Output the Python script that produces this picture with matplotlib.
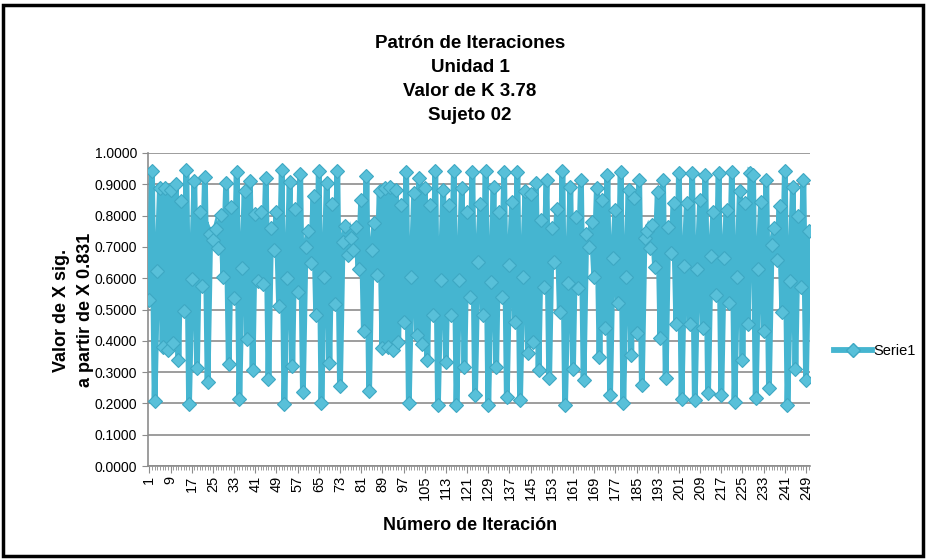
import matplotlib
matplotlib.use("Agg")
import matplotlib.pyplot as plt
from matplotlib.patches import Rectangle
from matplotlib.lines import Line2D

plt.rcParams['font.family'] = ['Liberation Sans', 'DejaVu Sans']

title_lines = ["Patrón de Iteraciones", "Unidad 1", "Valor de K 3.78", "Sujeto 02"]
y_label_lines = ["Valor de X sig.", "a partir de X 0.831"]
x_label = "Número de Iteración"
series_name = "Serie1"

values_1_50 = [0.5309, 0.9414, 0.2085, 0.6239, 0.8870, 0.3789, 0.8895, 0.3714, 0.8825, 0.3920,
               0.9009, 0.3375, 0.8452, 0.4945, 0.9449, 0.1968, 0.5976, 0.9090, 0.3127, 0.8124,
               0.5762, 0.9231, 0.2685, 0.7424, 0.7230, 0.7570, 0.6953, 0.8009, 0.6028, 0.9051,
               0.3248, 0.8290, 0.5358, 0.9402, 0.2127, 0.6330, 0.8782, 0.4044, 0.9105, 0.3082,
               0.8059, 0.5914, 0.8100, 0.5817, 0.9196, 0.2790, 0.7604, 0.6890, 0.8100, 0.5100]
values_51_100 = [0.9446, 0.1979, 0.6000, 0.9072, 0.3182, 0.8204, 0.5570, 0.9327, 0.2373, 0.7000,
                 0.7500, 0.6480, 0.8620, 0.4830, 0.9437, 0.2000, 0.6048, 0.9033, 0.3302, 0.8363,
                 0.5175, 0.9439, 0.2540, 0.7162, 0.7683, 0.6729, 0.7300, 0.6900, 0.7650, 0.6300,
                 0.8500, 0.4300, 0.9265, 0.2400, 0.6895, 0.7750, 0.6100, 0.8800, 0.3760, 0.8870,
                 0.3790, 0.8900, 0.3700, 0.8810, 0.3960, 0.8340, 0.4610, 0.9390, 0.2000, 0.6050]
values_101_150 = [0.8730, 0.4190, 0.9200, 0.3900, 0.8870, 0.3380, 0.8340, 0.4820, 0.9430, 0.1950,
                  0.5930, 0.8820, 0.3330, 0.8340, 0.4820, 0.9430, 0.1950, 0.5940, 0.8870, 0.3170,
                  0.8100, 0.5400, 0.9390, 0.2260, 0.6530, 0.8360, 0.4820, 0.9430, 0.1950, 0.5890,
                  0.8920, 0.3170, 0.8100, 0.5400, 0.9390, 0.2200, 0.6420, 0.8420, 0.4600, 0.9390,
                  0.2100, 0.6050, 0.8800, 0.3600, 0.8700, 0.3970, 0.9030, 0.3060, 0.7850, 0.5730]
values_151_200 = [0.9140, 0.2800, 0.7600, 0.6530, 0.8200, 0.4930, 0.9420, 0.1950, 0.5840, 0.8900,
                  0.3100, 0.7960, 0.5680, 0.9140, 0.2750, 0.7400, 0.7000, 0.7800, 0.6050, 0.8870,
                  0.3490, 0.8500, 0.4400, 0.9300, 0.2260, 0.6640, 0.8180, 0.5200, 0.9400, 0.2000,
                  0.6050, 0.8820, 0.3540, 0.8560, 0.4240, 0.9140, 0.2600, 0.7270, 0.7500, 0.6950,
                  0.7700, 0.6360, 0.8750, 0.4080, 0.9130, 0.2800, 0.7640, 0.6800, 0.8400, 0.4550]
values_201_250 = [0.9370, 0.2150, 0.6380, 0.8400, 0.4550, 0.9370, 0.2100, 0.6300, 0.8500, 0.4400,
                  0.9310, 0.2320, 0.6700, 0.8100, 0.5460, 0.9370, 0.2260, 0.6640, 0.8180, 0.5200,
                  0.9400, 0.2050, 0.6050, 0.8800, 0.3380, 0.8400, 0.4550, 0.9370, 0.9300, 0.2160,
                  0.6300, 0.8450, 0.4300, 0.9150, 0.2500, 0.7050, 0.7600, 0.6580, 0.8300, 0.4930,
                  0.9440, 0.1950, 0.5900, 0.8900, 0.3100, 0.8000, 0.5730, 0.9150, 0.2750, 0.7500]

values = values_1_50 + values_51_100 + values_101_150 + values_151_200 + values_201_250
iterations = list(range(1, len(values) + 1))
x_tick_labels = [str(i) for i in range(1, 250, 8)]
y_ticks = [i / 10 for i in range(0, 11)]
y_tick_labels = ["%.4f" % t for t in y_ticks]

line_color = "#45B5D0"
marker_face = "#58C0D9"
marker_edge = "#3EA8C3"
grid_color = "#8C8C8C"

fig = plt.figure(figsize=(9.27, 5.60), dpi=100)
fig.patch.set_facecolor("white")
ax = fig.add_axes([148 / 927, 1 - 466 / 560, 662 / 927, 313 / 560])

ax.plot(iterations, values, color=line_color, linewidth=4.2, marker="D",
        markersize=7.5, markerfacecolor=marker_face, markeredgecolor=marker_edge,
        markeredgewidth=0.8, solid_joinstyle="miter", zorder=3)

ax.set_xlim(0.5, len(values) + 0.5)
ax.set_ylim(0, 1)
ax.set_yticks(y_ticks)
ax.set_yticklabels(y_tick_labels, fontsize=10)
ax.set_xticks([int(s) for s in x_tick_labels])
ax.set_xticklabels(x_tick_labels, rotation=90, fontsize=10.5)
ax.set_xticks(iterations, minor=True)
ax.tick_params(axis="x", which="major", length=5, color=grid_color, pad=2)
ax.tick_params(axis="x", which="minor", length=3, color=grid_color, width=0.6)
ax.tick_params(axis="y", which="major", length=4, color=grid_color, pad=4)
ax.yaxis.grid(True, color=grid_color, linewidth=1.2, zorder=0)
ax.set_axisbelow(True)
for s in ["top", "right"]:
    ax.spines[s].set_visible(False)
for s in ["left", "bottom"]:
    ax.spines[s].set_color(grid_color)
    ax.spines[s].set_linewidth(1.2)

for k, line in enumerate(title_lines):
    fig.text(470 / 927, 1 - (44 + 24 * k) / 560, line, ha="center", va="center",
             fontsize=13.5, fontweight="bold")

for k, line in enumerate(y_label_lines):
    fig.text((62 + 23 * k) / 927, 1 - 310 / 560, line, rotation=90, ha="center", va="center",
             fontsize=13, fontweight="bold")
fig.text(470 / 927, 1 - 525 / 560, x_label, ha="center", va="center",
         fontsize=13, fontweight="bold")

handle = Line2D([0], [0], color=line_color, linewidth=4.2, marker="D", markersize=7.5,
                markerfacecolor=marker_face, markeredgecolor=marker_edge)
fig.legend([handle], [series_name], loc="center left", bbox_to_anchor=(828 / 927, 1 - 351 / 560),
           frameon=False, fontsize=10.5, handlelength=2.6, handletextpad=0.1, borderaxespad=0)

fig.patches.append(Rectangle((3 / 927, 4 / 560), 920 / 927, 551 / 560, transform=fig.transFigure,
                             fill=False, edgecolor="black", linewidth=2.5))

fig.savefig("out.png", dpi=100)
